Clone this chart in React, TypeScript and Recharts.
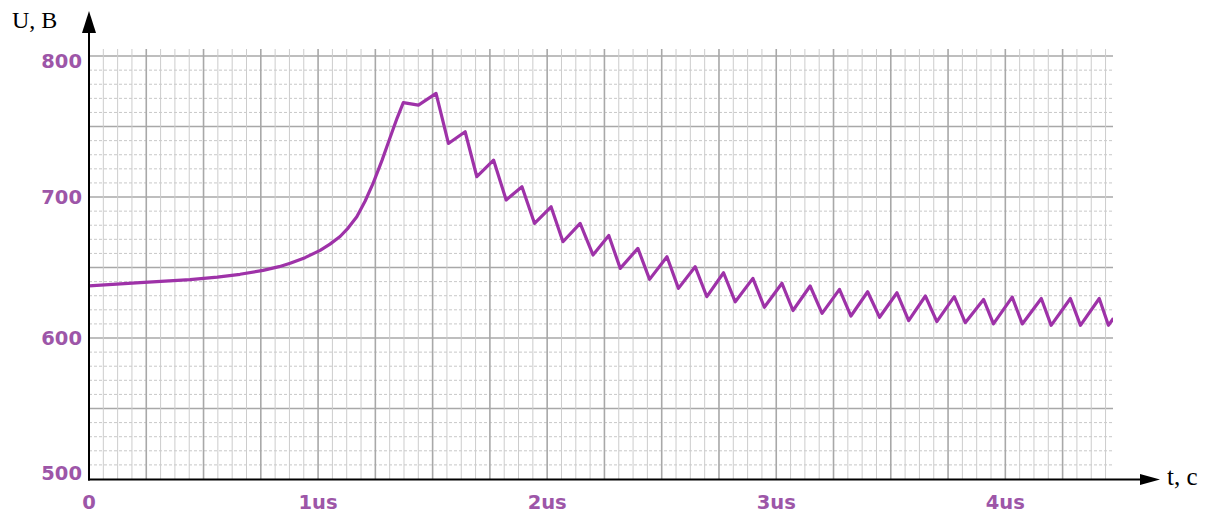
import { LineChart, Line, XAxis, YAxis, ReferenceLine } from 'recharts';

// time, us
const T = [
  0, 0.223, 0.441, 0.56, 0.659, 0.76, 0.83, 0.878, 0.943, 1.009, 1.052, 1.096, 1.131, 1.169,
  1.205, 1.241, 1.279, 1.314, 1.345, 1.372, 1.438, 1.515,
  1.569, 1.642, 1.693, 1.766, 1.821, 1.89, 1.945, 2.017, 2.069, 2.144, 2.2, 2.269,
  2.319, 2.396, 2.447, 2.523, 2.573, 2.646, 2.697, 2.77, 2.821, 2.898, 2.948, 3.025,
  3.073, 3.148, 3.2, 3.276, 3.326, 3.399, 3.451, 3.527, 3.578, 3.651, 3.701, 3.777,
  3.825, 3.905, 3.948, 4.03, 4.074, 4.157, 4.2, 4.284, 4.328, 4.41, 4.45, 4.472,
];

// voltage, V
const U = [
  637, 639.3, 641.4, 643.2, 645.2, 648, 650.6, 653, 657, 662.2, 666.6, 672, 678, 686,
  697, 710, 726, 742, 756, 767, 765.2, 773.5,
  738, 746.3, 714.4, 726.2, 697.9, 707.3, 681.3, 693.1, 668.3, 681.3, 658.9, 672.7,
  649.4, 663.6, 641.6, 657.7, 635.2, 650.6, 629.3, 646.3, 625.7, 642.3, 621.8, 638.8,
  619.5, 636.9, 617.5, 634.5, 615.6, 632.8, 614.7, 632.1, 612.3, 629.8, 611.6, 629.3,
  610.9, 627.4, 610, 629, 610, 628, 609, 628, 609, 628, 609, 614,
];

const X_TICKS = [0, 1, 2, 3, 4];
const Y_TICKS = [500, 600, 700, 800];

const data = T.map((t, i) => ({ t, u: U[i] }));

const vMinor: number[] = [];
for (let i = 1; i * 0.0625 < 4.47; i++) vMinor.push(i * 0.0625);
const hMinor: number[] = [];
for (let v = 510; v <= 800; v += 10) hMinor.push(v);

const LABEL = '#9d56a8';
const tickFont = { fontFamily: 'DejaVu Sans', fontWeight: 'bold', fontSize: 19.5 } as const;

function YTick(props: any) {
  const { x, y, payload } = props;
  const shift = payload.value === 800 ? 5 : payload.value === 500 ? -6 : 0;
  return (
    <text x={x} y={y + shift} textAnchor="end" dominantBaseline="central" fill={LABEL} {...tickFont}>
      {payload.value}
    </text>
  );
}

function XTick(props: any) {
  const { x, y, payload } = props;
  return (
    <text x={x} y={y} textAnchor="middle" dominantBaseline="central" fill={LABEL} {...tickFont}>
      {payload.value === 0 ? '0' : `${payload.value}us`}
    </text>
  );
}

export default function App() {
  return (
    <div style={{ position: 'absolute', left: 0, top: 0, width: 1215, height: 513, background: '#fff' }}>
      <LineChart width={1215} height={513} data={data} margin={{ top: 49, right: 102, left: 0, bottom: 0 }}>
        <XAxis
          dataKey="t"
          type="number"
          domain={[0, 4.47]}
          ticks={X_TICKS}
          height={34}
          axisLine={false}
          tickLine={false}
          tickSize={0}
          tickMargin={23}
          tick={<XTick />}
          allowDataOverflow
        />
        <YAxis
          type="number"
          domain={[500, 805]}
          ticks={Y_TICKS}
          width={89}
          axisLine={false}
          tickLine={false}
          tickSize={0}
          tickMargin={7}
          tick={<YTick />}
          allowDataOverflow
        />
        {hMinor.map((v) => (
          <ReferenceLine
            key={`h${v}`}
            y={v}
            stroke={v % 50 === 0 ? '#a8a8a8' : '#c8c8c8'}
            strokeWidth={v % 50 === 0 ? 1.6 : 1}
            strokeDasharray={v % 50 === 0 ? undefined : '3 2'}
          />
        ))}
        {vMinor.map((v) => {
          const major = Math.abs(v * 4 - Math.round(v * 4)) < 1e-6;
          return (
            <ReferenceLine
              key={`v${v}`}
              x={v}
              stroke={major ? '#a8a8a8' : '#cccccc'}
              strokeWidth={major ? 1.6 : 1}
            />
          );
        })}
        <Line
          dataKey="u"
          type="linear"
          stroke="#9e32a8"
          strokeWidth={3.2}
          strokeLinejoin="round"
          dot={false}
          isAnimationActive={false}
        />
      </LineChart>
      <svg width={1215} height={513} style={{ position: 'absolute', left: 0, top: 0, pointerEvents: 'none' }}>
        <line x1={89} y1={480.5} x2={89} y2={30} stroke="#000" strokeWidth={2} />
        <polygon points="89,11 82,33 96,33" fill="#000" />
        <line x1={88} y1={479.5} x2={1142} y2={479.5} stroke="#000" strokeWidth={2} />
        <polygon points="1160,479.5 1140,474 1140,485" fill="#000" />
        <text x={12} y={28} fontFamily="Liberation Serif" fontSize={24} fill="#000">U, B</text>
        <text x={1167} y={485} fontFamily="Liberation Serif" fontSize={25} fill="#000">t, c</text>
      </svg>
    </div>
  );
}
